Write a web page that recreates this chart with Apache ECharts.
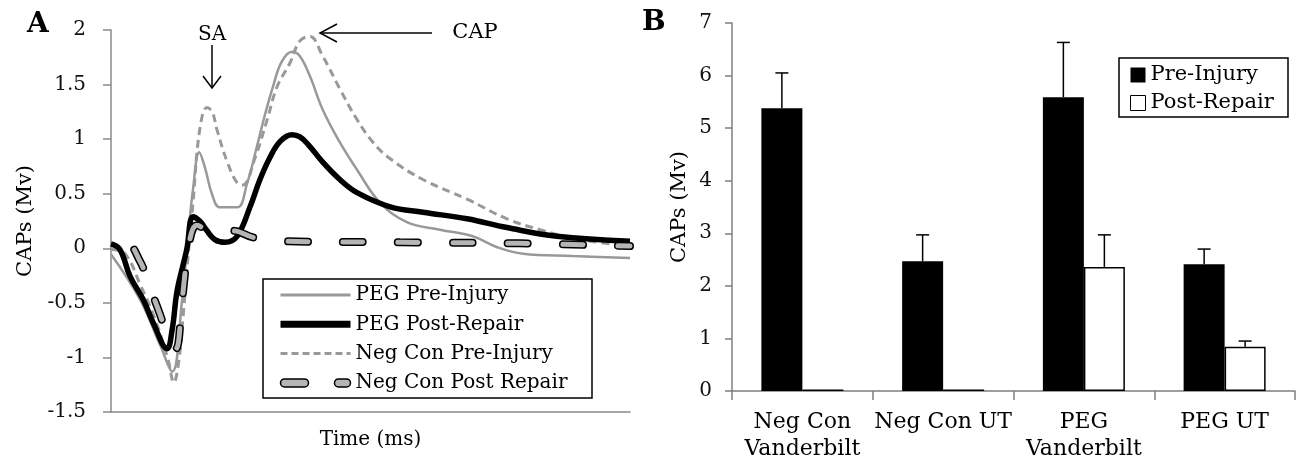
<!DOCTYPE html>
<html><head><meta charset="utf-8">
<script src="https://cdn.jsdelivr.net/npm/echarts@6/dist/echarts.min.js"></script>
<style>html,body{margin:0;padding:0;background:#fff}#c{width:1303px;height:464px}</style>
</head><body><div id="c"></div>
<script>
const FONT = 'DejaVu Serif';

// ---------- Panel A: CAP traces, [time (ms, arbitrary 0-10), amplitude (mV)] ----------
const pegPreInjury = [
  [0,-0.055],[0.56,-0.47],[0.94,-0.88],[1.18,-1.13],[1.37,-0.47],[1.48,0.08],[1.58,0.54],
  [1.70,0.88],[1.81,0.74],[1.95,0.49],[2.10,0.375],[2.43,0.375],[2.62,0.59],[2.81,0.93],
  [2.97,1.23],[3.12,1.48],[3.29,1.71],[3.49,1.80],[3.64,1.76],[3.83,1.58],[4.08,1.27],
  [4.41,0.97],[4.74,0.72],[5.18,0.42],[5.70,0.24],[6.34,0.17],[6.97,0.11],[7.44,0.01],
  [7.94,-0.05],[8.90,-0.07],[10,-0.09]
];
const pegPostRepair = [
  [0,0.04],[0.17,-0.01],[0.37,-0.26],[0.62,-0.47],[0.81,-0.68],[1.08,-0.92],
  [1.18,-0.74],[1.27,-0.40],[1.39,-0.15],[1.46,-0.01],[1.58,0.29],[1.71,0.25],[1.85,0.16],
  [2.00,0.08],[2.20,0.055],[2.43,0.11],[2.68,0.38],[2.87,0.63],[3.06,0.83],[3.26,0.98],
  [3.49,1.04],[3.64,1.02],[3.80,0.95],[4.08,0.79],[4.41,0.63],[4.74,0.51],[5.38,0.38],
  [6.01,0.33],[6.86,0.27],[7.63,0.19],[8.59,0.11],[10,0.065]
];
const negConPreInjury = [
  [0,-0.01],[0.27,-0.05],[0.56,-0.33],[0.85,-0.65],[1.10,-1.02],[1.21,-1.23],[1.31,-1.02],
  [1.39,-0.62],[1.48,-0.10],[1.58,0.42],[1.71,1.09],[1.85,1.29],[1.95,1.25],[2.04,1.09],
  [2.24,0.79],[2.43,0.60],[2.54,0.58],[2.77,0.82],[3.01,1.18],[3.20,1.48],[3.45,1.70],
  [3.64,1.90],[3.83,1.94],[4.08,1.76],[4.41,1.46],[4.74,1.18],[5.05,0.97],[5.38,0.82],
  [6.01,0.63],[6.86,0.45],[7.63,0.27],[8.27,0.17],[9.04,0.08],[10,0.02]
];
const negConPostRepair = [
  [0,0.04],[0.27,0.06],[0.56,-0.12],[0.75,-0.36],[0.94,-0.60],[1.14,-0.88],[1.25,-0.92],
  [1.37,-0.47],[1.52,0.08],[1.66,0.21],[1.91,0.15],[2.35,0.16],[2.74,0.10],[3.31,0.065],
  [5.57,0.055],[7.88,0.045],[10,0.02]
];
const yMinA = -1.5, yMaxA = 2, yStepA = 0.5;
const legendA = ['PEG Pre-Injury','PEG Post-Repair','Neg Con Pre-Injury','Neg Con Post Repair'];

// ---------- Panel B: mean CAPs (mV) with upper error ----------
const categoriesB = ['Neg Con\nVanderbilt','Neg Con UT','PEG\nVanderbilt','PEG UT'];
const preInjury     = [5.38, 2.47, 5.59, 2.41];
const preInjuryErr  = [0.67, 0.50, 1.04, 0.29];
const postRepair    = [0.03, 0.03, 2.36, 0.84];
const postRepairErr = [0, 0, 0.61, 0.11];
const yMinB = 0, yMaxB = 7, yStepB = 1;

const BAR_W = 41;
function errorBars(vals, errs, offset){
  return {
    type:'custom', xAxisIndex:1, yAxisIndex:1, z:5, silent:true,
    data: vals.map((v,i)=>[i, v, v+errs[i], errs[i]]),
    renderItem(params, api){
      if (api.value(3) <= 0) return null;
      const b = api.coord([api.value(0), api.value(1)]);
      const t = api.coord([api.value(0), api.value(2)]);
      const x = b[0] + offset;
      const st = {stroke:'#000', lineWidth:1.5};
      return {type:'group', children:[
        {type:'line', shape:{x1:x,y1:b[1],x2:x,y2:t[1]}, style:st},
        {type:'line', shape:{x1:x-6.5,y1:t[1],x2:x+6.5,y2:t[1]}, style:st}
      ]};
    }
  };
}

const txt = (s)=>Object.assign({fontFamily:FONT, color:'#000'}, s||{});
const hideSym = {opacity:0};
const chart = echarts.init(document.getElementById('c'), null, {renderer:'canvas'});
chart.setOption({
  animation:false,
  backgroundColor:'#fff',
  title:[
    {text:'A', left:27, top:11, padding:0, textStyle:txt({fontSize:28, fontWeight:'bold'})},
    {text:'B', left:642, top:9, padding:0, textStyle:txt({fontSize:28, fontWeight:'bold'})}
  ],
  grid:[
    {left:111, right:673, top:30, bottom:52, outerBoundsMode:'none'},
    {left:732, right:8, top:23, bottom:73, outerBoundsMode:'none'}
  ],
  xAxis:[
    {type:'value', gridIndex:0, min:0, max:10, name:'Time (ms)', nameLocation:'middle', nameGap:18,
     nameTextStyle:txt({fontSize:20}),
     axisLine:{show:true, onZero:false, lineStyle:{color:'#8a8a8a', width:1.5}},
     axisTick:{show:false}, axisLabel:{show:false}, splitLine:{show:false}},
    {type:'category', gridIndex:1, data:categoriesB, boundaryGap:true,
     axisLine:{show:true, lineStyle:{color:'#7f7f7f', width:1.5}},
     axisTick:{show:true, length:9, alignWithLabel:false, interval:0, lineStyle:{color:'#7f7f7f', width:1.5}},
     axisLabel:txt({fontSize:22, lineHeight:27, margin:18, interval:0}),
     splitLine:{show:false}}
  ],
  yAxis:[
    {type:'value', gridIndex:0, min:yMinA, max:yMaxA, interval:yStepA,
     name:'CAPs (Mv)', nameLocation:'middle', nameGap:75, nameTextStyle:txt({fontSize:21}),
     axisLine:{show:true, lineStyle:{color:'#8a8a8a', width:1.5}},
     axisTick:{show:true, length:8, lineStyle:{color:'#8a8a8a', width:1.5}},
     axisLabel:txt({fontSize:20, margin:25, color:'#111'}), splitLine:{show:false}},
    {type:'value', gridIndex:1, min:yMinB, max:yMaxB, interval:yStepB,
     name:'CAPs (Mv)', nameLocation:'middle', nameGap:42, nameTextStyle:txt({fontSize:21}),
     axisLine:{show:true, lineStyle:{color:'#7f7f7f', width:1.5}},
     axisTick:{show:true, length:7, lineStyle:{color:'#7f7f7f', width:1.5}},
     axisLabel:txt({fontSize:20, margin:20, color:'#111'}), splitLine:{show:false}}
  ],
  legend:[
    {orient:'vertical', left:277, top:285, padding:0, itemWidth:70, itemHeight:8, itemGap:9.3, z:6,
     selectedMode:false, textStyle:txt({fontSize:20, lineHeight:20}),
     data:[
       {name:legendA[0], itemStyle:hideSym, lineStyle:{color:'#999', width:3, type:'solid'}},
       {name:legendA[1], itemStyle:hideSym, lineStyle:{color:'#000', width:7, type:'solid'}},
       {name:legendA[2], itemStyle:hideSym, lineStyle:{color:'#999', width:3, type:[7,4]}},
       {name:legendA[3], icon:'path://M4 0H24A4 4 0 0 1 24 8H4A4 4 0 0 1 4 0ZM58 0H66A4 4 0 0 1 66 8H58A4 4 0 0 1 58 0Z',
        itemStyle:{color:'#b5b5b5', borderColor:'#000', borderWidth:1.5}}
     ]},
    {orient:'vertical', left:1130, top:64, padding:0, itemWidth:15, itemHeight:15, itemGap:6, z:6,
     selectedMode:false, textStyle:txt({fontSize:21, lineHeight:22}),
     data:[
       {name:'Pre-Injury', icon:'rect', itemStyle:{color:'#000', borderWidth:0}},
       {name:'Post-Repair', icon:'rect', itemStyle:{color:'#fff', borderColor:'#000', borderWidth:1}}
     ]}
  ],
  graphic:[
    {type:'rect', z:3, shape:{x:263, y:279, width:329, height:119}, style:{fill:'#fff', stroke:'#000', lineWidth:1.5}},
    {type:'rect', z:3, shape:{x:1119, y:58, width:169, height:59}, style:{fill:'#fff', stroke:'#000', lineWidth:1.5}},
    {type:'text', z:6, x:212, y:35, style:{text:'SA', fontFamily:FONT, fontSize:20, fill:'#000', align:'center', verticalAlign:'middle'}},
    {type:'line', z:6, shape:{x1:212,y1:45,x2:212,y2:88}, style:{stroke:'#000', lineWidth:1.5}},
    {type:'polyline', z:6, shape:{points:[[203,76],[212,88],[221,76]]}, style:{stroke:'#000', lineWidth:1.5, fill:null}},
    {type:'text', z:6, x:475, y:33, style:{text:'CAP', fontFamily:FONT, fontSize:21, fill:'#000', align:'center', verticalAlign:'middle'}},
    {type:'line', z:6, shape:{x1:432,y1:33,x2:320,y2:33}, style:{stroke:'#000', lineWidth:1.5}},
    {type:'polyline', z:6, shape:{points:[[337,24],[320,33],[337,42]]}, style:{stroke:'#000', lineWidth:1.5, fill:null}}
  ],
  series:[
    {name:legendA[0], type:'line', xAxisIndex:0, yAxisIndex:0, data:pegPreInjury, smooth:0.4, symbol:'none',
     itemStyle:{color:'#999'}, lineStyle:{color:'#999', width:2.5}, z:2},
    {name:legendA[2], type:'line', xAxisIndex:0, yAxisIndex:0, data:negConPreInjury, smooth:0.4, symbol:'none',
     itemStyle:{color:'#999'}, lineStyle:{color:'#999', width:3, type:[8,5]}, z:2},
    {name:legendA[1], type:'line', xAxisIndex:0, yAxisIndex:0, data:pegPostRepair, smooth:0.4, symbol:'none',
     itemStyle:{color:'#000'}, lineStyle:{color:'#000', width:5.5}, z:2},
    {name:legendA[3], type:'line', xAxisIndex:0, yAxisIndex:0, data:negConPostRepair, smooth:0.4, symbol:'none',
     itemStyle:{color:'#000'}, lineStyle:{color:'#000', width:8, type:[20,35], dashOffset:28, cap:'round'}, z:2},
    {name:'Neg Con Post Repair (fill)', type:'line', xAxisIndex:0, yAxisIndex:0, data:negConPostRepair, smooth:0.4, symbol:'none',
     itemStyle:{color:'#b5b5b5'}, lineStyle:{color:'#b5b5b5', width:5, type:[20,35], dashOffset:28, cap:'round'}, z:2, silent:true},
    {name:'Pre-Injury', type:'bar', xAxisIndex:1, yAxisIndex:1, data:preInjury, barWidth:BAR_W, barGap:'0%',
     itemStyle:{color:'#000'}},
    {name:'Post-Repair', type:'bar', xAxisIndex:1, yAxisIndex:1, data:postRepair, barWidth:BAR_W, barGap:'0%',
     itemStyle:{color:'#fff', borderColor:'#000', borderWidth:1.5}},
    errorBars(preInjury, preInjuryErr, -BAR_W/2),
    errorBars(postRepair, postRepairErr, BAR_W/2)
  ]
});
</script></body></html>
